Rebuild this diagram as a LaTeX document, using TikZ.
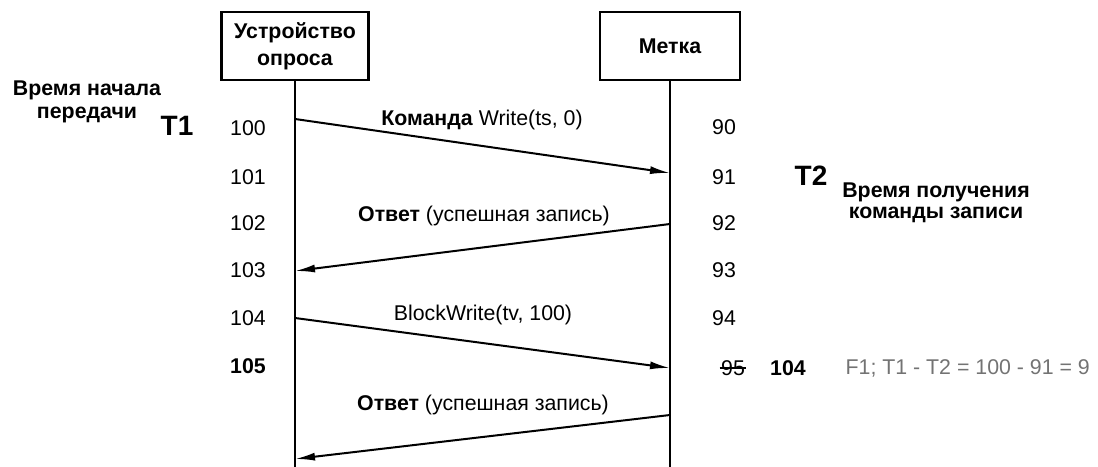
\documentclass[tikz,border=0pt]{standalone}
\usepackage{fontspec}
\setmainfont{Liberation Sans}
\usetikzlibrary{arrows.meta,positioning}
\newcommand{\txt}{\fontsize{16}{18}\selectfont}

\begin{document}
\begin{tikzpicture}[x=0.75pt,y=0.75pt,
      lifebox/.style={draw,line width=1.8pt,minimum width=110pt,minimum height=51pt,
        align=center,font=\fontsize{16}{20}\selectfont\bfseries,inner sep=2pt},
      life/.style={line width=1.8pt},
      msg/.style={line width=1.5pt,-{Latex[length=15pt,width=6pt]}},
      tick/.style={inner sep=1pt,font=\txt},
      btick/.style={inner sep=1pt,font=\txt\bfseries},
      note/.style={align=center,font=\txt\bfseries},
      big/.style={inner sep=1pt,font=\fontsize{21}{24}\selectfont\bfseries}]
 \useasboundingbox (0,0) rectangle (1098,-467);

 % participants
 \node[lifebox] (dev) at (295,-46) {Устройство\\опроса};
 \node[lifebox,minimum width=105pt] (tag) at (670,-46) {Метка};
 \coordinate (devend) at (295,-467);
 \coordinate (tagend) at (670,-467);
 \draw[life] (dev.south) -- (devend);
 \draw[life] (tag.south) -- (tagend);

 % time counts
 \foreach \n/\y in {100/128,101/177,102/223,103/270,104/318}
   \node[tick] (l\n) at (248,-\y) {\n};
 \node[btick] (l105) at (248,-366) {105};
 \foreach \n/\y in {90/127,91/177,92/223,93/270,94/318}
   \node[tick] (r\n) at (724,-\y) {\n};
 \node[tick] (r95) at (733,-368) {95};
 \draw[line width=1pt] (r95.west) -- (r95.east);
 \node[btick] (r104) at (788,-368) {104};
 \node[tick,anchor=west,text=black!55] (f1) at (844,-368) {F1; T1 - T2 = 100 - 91 = 9};

 % marks
 \node[big] (t1) at (177,-126) {T1};
 \node[big] (t2) at (811,-176) {T2};
 \node[note,font=\fontsize{16}{17.5}\selectfont\bfseries] (startnote) at (87,-102) {Время начала\\передачи};
 \node[note,font=\fontsize{16}{15.5}\selectfont\bfseries] (recvnote) at (936,-203) {Время получения\\команды записи};

 % messages
 \coordinate (a1) at (295,-119);
 \coordinate (b1) at (670,-173);
 \coordinate (b2) at (670,-224);
 \coordinate (a2) at (295,-271);
 \coordinate (a3) at (295,-318);
 \coordinate (b3) at (670,-368);
 \coordinate (b4) at (670,-415);
 \coordinate (a4) at (295,-459);
 \draw[msg] (a1) -- (b1);
 \draw[msg] (b2) -- (a2);
 \draw[msg] (a3) -- (b3);
 \draw[msg] (b4) -- (a4);
 \node[tick] (m1) at (482,-120) {\textbf{Команда} Write(ts, 0)};
 \node[tick] (m2) at (484,-216) {\textbf{Ответ} (успешная запись)};
 \node[tick] (m3) at (483,-315) {BlockWrite(tv, 100)};
 \node[tick] (m4) at (483,-405) {\textbf{Ответ} (успешная запись)};
\end{tikzpicture}
\end{document}
